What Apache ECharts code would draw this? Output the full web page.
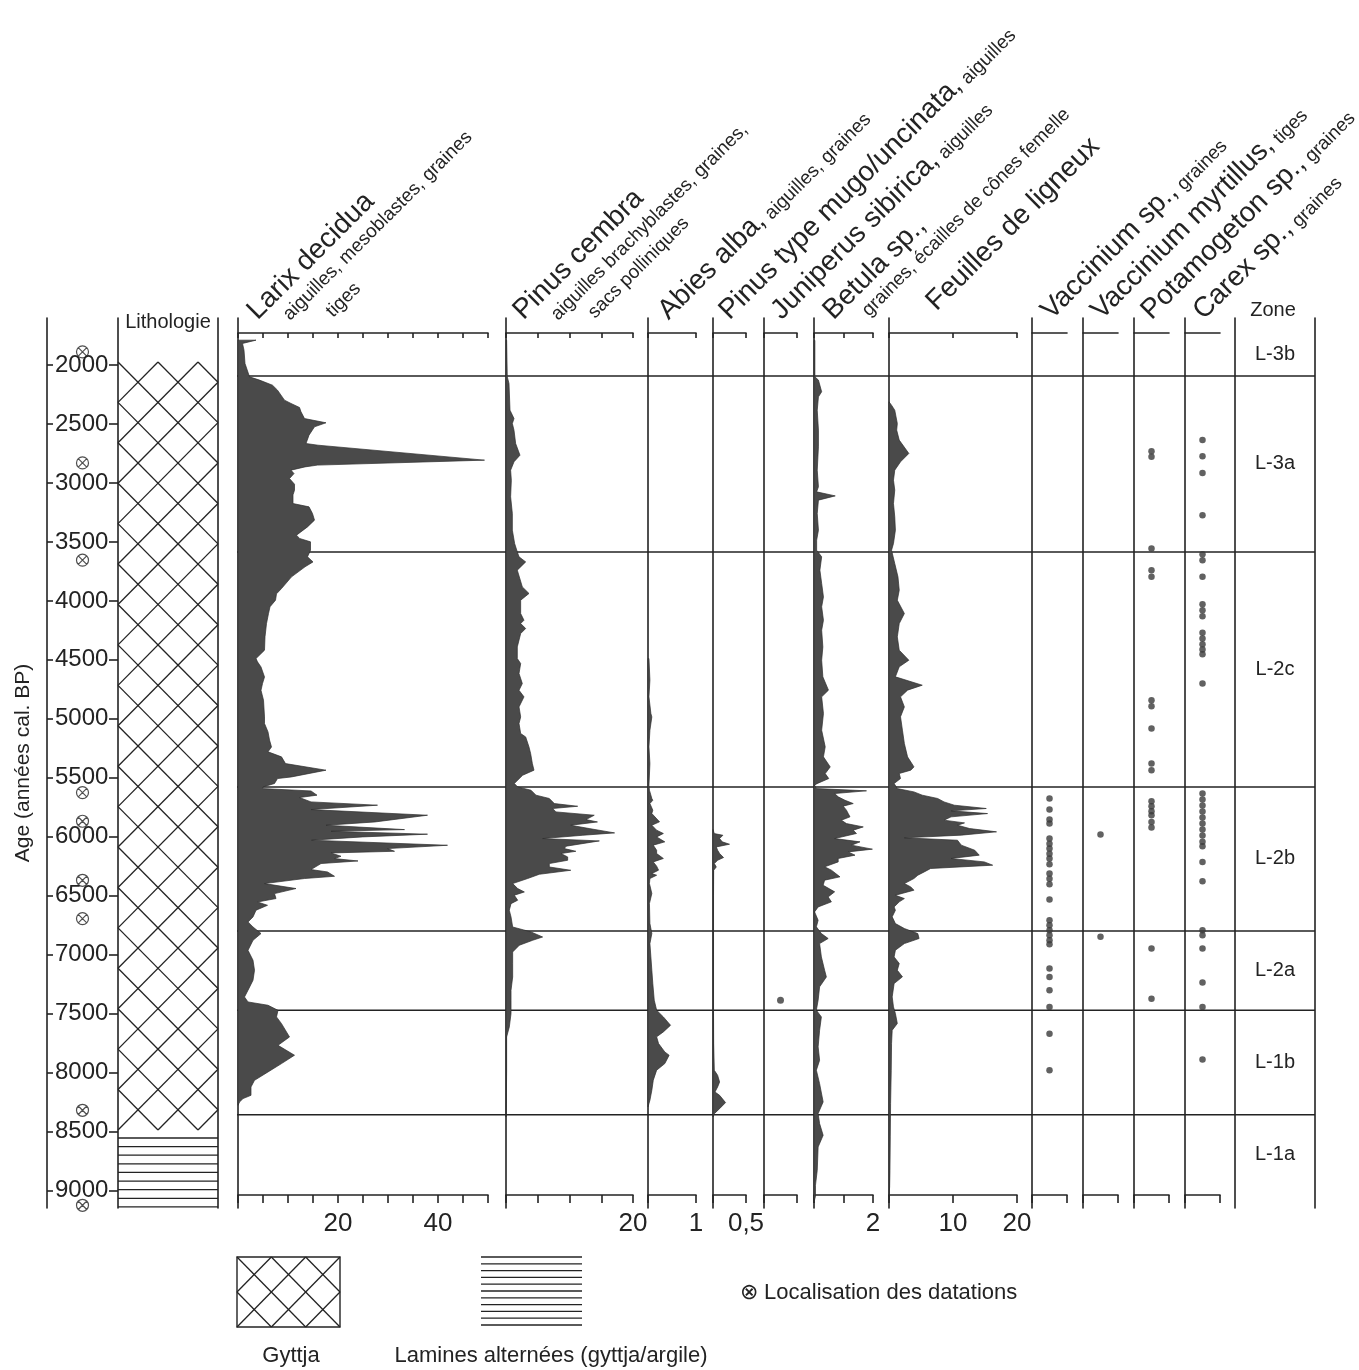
<!DOCTYPE html>
<html>
<head>
<meta charset="utf-8">
<script src="https://cdn.jsdelivr.net/npm/echarts@6/dist/echarts.min.js"></script>
<style>
html, body { margin: 0; padding: 0; background: #ffffff; }
#chart { width: 1359px; height: 1370px; }
</style>
</head>
<body>
<div id="chart"></div>
<script>
// ---- Age scale (années cal. BP) ----
const AGE_TICKS = [2000, 2500, 3000, 3500, 4000, 4500, 5000, 5500, 6000, 6500, 7000, 7500, 8000, 8500, 9000];
const DATINGS = [1887, 2829, 3654, 5626, 5869, 6370, 6695, 8321, 9127];

// ---- Zones ----
const ZONE_BOUNDS = [1730, 2091, 3584, 5578, 6800, 7473, 8358, 9040];
const ZONE_NAMES = ['L-3b', 'L-3a', 'L-2c', 'L-2b', 'L-2a', 'L-1b', 'L-1a'];

// ---- Lithology units ----
const LITHO_TOP = [1973, 8556];
const LITHO_BASE = [8488, 9141];
const LITHO_KIND = ['gyttja', 'lamines'];

// ---- Macrofossil curves: [age, value] ----
const LARIX = [
  [1788, 3.6], [1816, 0.9], [1873, 1.2], [1986, 1.4], [2099, 2.3], [2127, 4.3], [2170, 6.9], [2212, 7.9],
  [2297, 9.3], [2325, 10.6], [2359, 12.3], [2396, 12.6], [2453, 13.3], [2489, 17.6], [2523, 15.3], [2594, 14.2],
  [2665, 13.6], [2679, 16], [2806, 49.3], [2848, 15.9], [2863, 13.4], [2891, 10.6], [2920, 11.2], [2962, 10.3],
  [3010, 11.3], [3061, 11.3], [3100, 11], [3174, 11], [3202, 14.2], [3259, 14.9], [3315, 15.3], [3372, 13.9],
  [3442, 11.7], [3470, 12.3], [3499, 14.5], [3570, 14.5], [3626, 13.9], [3669, 15.0], [3711, 13.4], [3796, 10.7],
  [3895, 8.7], [3940, 7.7], [3994, 7.5], [4050, 6.4], [4107, 6.1], [4192, 5.7], [4305, 5.4], [4418, 5.3],
  [4489, 3.6], [4517, 3.9], [4560, 4.6], [4645, 5.3], [4701, 4.9], [4758, 4.6], [4842, 5.1], [4984, 5.3],
  [5040, 5.3], [5111, 6], [5180, 6.3], [5239, 6.7], [5280, 6.0], [5323, 8.7], [5380, 9.5], [5436, 17.6],
  [5493, 10.7], [5507, 7.9], [5549, 7.3], [5578, 5.0], [5592, 4.9], [5612, 14.6], [5648, 15.8], [5668, 12.3],
  [5705, 14.6], [5733, 27.9], [5770, 14.6], [5818, 37.9], [5875, 27.4], [5903, 17.6], [5940, 33.3], [5954, 18.6],
  [5979, 37.9], [6002, 24.9], [6030, 14.7], [6073, 41.9], [6101, 29.9], [6124, 31.3], [6138, 18.6], [6166, 20.6],
  [6186, 19.3], [6206, 24.0], [6228, 16.6], [6279, 14.6], [6299, 17.9], [6336, 19.3], [6355, 13.3], [6398, 5.3],
  [6440, 11.6], [6483, 7.3], [6525, 7.6], [6554, 3.9], [6582, 5.9], [6624, 3.6], [6681, 3.0], [6723, 2.0],
  [6766, 3.0], [6822, 4.6], [6879, 3.0], [6964, 2.0], [7048, 3.0], [7133, 3.3], [7218, 3.0], [7303, 2.0],
  [7360, 1.3], [7402, 2.0], [7430, 6.0], [7473, 8.0], [7529, 7.7], [7586, 8.7], [7699, 10.3], [7770, 8.0],
  [7854, 11.3], [7925, 8.7], [7996, 6.0], [8067, 3.3], [8123, 2.6], [8194, 2.6], [8222, 1.0], [8251, 0.3], [8279, 0]
];
const PINUS_CEMBRA = [
  [1788, 0.1], [2099, 0.2], [2155, 0.47], [2382, 0.63], [2453, 1.26], [2495, 1.0], [2552, 1.26], [2665, 1.52],
  [2764, 2.2], [2820, 1.26], [2891, 0.73], [2976, 0.84], [3117, 0.73], [3259, 1.0], [3400, 1.0], [3513, 1.36],
  [3584, 1.78], [3626, 2.05], [3669, 3.1], [3739, 1.78], [3881, 2.57], [3937, 3.62], [3994, 2.31], [4107, 2.31],
  [4164, 2.83], [4192, 2.31], [4234, 3.1], [4277, 2.31], [4390, 1.78], [4489, 1.78], [4531, 2.31], [4616, 2.05],
  [4701, 2.57], [4758, 2.05], [4814, 2.83], [4899, 2.05], [4984, 2.31], [5040, 2.05], [5125, 2.31], [5154, 3.1],
  [5239, 3.62], [5295, 3.88], [5380, 4.15], [5436, 4.41], [5479, 2.62], [5549, 1.31], [5578, 1.84], [5606, 3.94],
  [5648, 4.72], [5676, 6.82], [5719, 7.61], [5742, 11.29], [5761, 7.35], [5790, 7.87], [5818, 13.9], [5855, 12.6],
  [5875, 14.4], [5903, 10.2], [5931, 13.1], [5968, 17.1], [5988, 12.1], [6016, 5.77], [6036, 14.7], [6081, 9.45],
  [6101, 9.19], [6124, 11.0], [6143, 8.66], [6172, 9.71], [6200, 9.71], [6228, 6.82], [6257, 6.82], [6285, 10.2],
  [6319, 5.25], [6355, 3.41], [6398, 1.05], [6440, 1.84], [6469, 2.89], [6497, 1.31], [6539, 1.84], [6568, 0.79],
  [6624, 0.52], [6681, 0.79], [6766, 1.05], [6808, 3.94], [6851, 5.77], [6879, 4.2], [6921, 2.1], [6978, 1.05],
  [7077, 1.05], [7190, 1.05], [7303, 0.79], [7388, 0.79], [7501, 0.79], [7614, 0.52], [7699, 0.1], [7982, 0.1],
  [8251, 0.05], [8378, 0]
];
const ABIES = [
  [4489, 0.02], [4672, 0.04], [4814, 0.02], [4955, 0.06], [4984, 0.08], [5097, 0.04], [5238, 0.02], [5380, 0.04],
  [5564, 0.02], [5606, 0.03], [5676, 0.08], [5691, 0.10], [5719, 0.04], [5775, 0.10], [5804, 0.08], [5874, 0.24],
  [5903, 0.08], [5945, 0.18], [5973, 0.32], [6002, 0.18], [6044, 0.35], [6072, 0.11], [6115, 0.18], [6143, 0.18],
  [6185, 0.32], [6214, 0.11], [6250, 0.18], [6284, 0.22], [6313, 0.08], [6327, 0.18], [6355, 0.04], [6398, 0.03],
  [6482, 0.08], [6567, 0.03], [6737, 0.04], [6822, 0.08], [6907, 0.04], [7020, 0.06], [7133, 0.08], [7246, 0.10],
  [7387, 0.13], [7472, 0.18], [7529, 0.32], [7600, 0.47], [7656, 0.32], [7698, 0.18], [7755, 0.22], [7826, 0.35],
  [7854, 0.44], [7925, 0.35], [7981, 0.18], [8066, 0.11], [8151, 0.08], [8236, 0.04], [8292, 0]
];
const PINUS_MUGO = [
  [5940, 0], [5974, 0.02], [5988, 0.15], [6016, 0.1], [6044, 0.14], [6064, 0.25], [6087, 0.05], [6115, 0.07],
  [6143, 0.1], [6177, 0.16], [6200, 0.07], [6228, 0.02], [6257, 0.05], [6285, 0.01], [6500, 0.008], [7000, 0.008],
  [7500, 0.008], [7755, 0.01], [7982, 0.02], [8024, 0.07], [8081, 0.1], [8123, 0.07], [8166, 0.03], [8194, 0.1],
  [8256, 0.19], [8307, 0.1], [8350, 0.02], [8378, 0]
];
const BETULA = [
  [1790, 0.03], [2099, 0.03], [2127, 0.15], [2226, 0.26], [2269, 0.15], [2382, 0.11], [2551, 0.15], [2693, 0.15],
  [2891, 0.11], [3032, 0.15], [3075, 0.09], [3109, 0.72], [3145, 0.15], [3259, 0.11], [3400, 0.15], [3485, 0.09],
  [3570, 0.09], [3626, 0.26], [3739, 0.2], [3852, 0.26], [3966, 0.32], [4050, 0.26], [4164, 0.32], [4248, 0.26],
  [4390, 0.3], [4503, 0.26], [4644, 0.3], [4757, 0.49], [4814, 0.26], [4955, 0.32], [5097, 0.26], [5238, 0.38],
  [5323, 0.32], [5408, 0.55], [5465, 0.38], [5507, 0.5], [5550, 0.1], [5563, 0.02], [5592, 0.08], [5611, 1.78],
  [5634, 0.70], [5662, 0.82], [5691, 1.05], [5719, 1.33], [5741, 0.99], [5775, 1.10], [5804, 1.16], [5832, 1.22],
  [5860, 0.93], [5889, 1.10], [5917, 1.67], [5945, 1.33], [5973, 1.44], [6016, 0.70], [6044, 1.56], [6072, 1.27],
  [6106, 1.98], [6129, 1.16], [6157, 1.39], [6185, 0.82], [6214, 0.82], [6256, 0.36], [6284, 0.59], [6341, 0.88],
  [6369, 0.36], [6412, 0.31], [6468, 0.70], [6511, 0.48], [6553, 0.59], [6596, 0.14], [6638, 0.02], [6709, 0.14],
  [6765, 0.08], [6822, 0.25], [6864, 0.48], [6907, 0.19], [7020, 0.25], [7133, 0.36], [7190, 0.42], [7274, 0.19],
  [7387, 0.14], [7472, 0.08], [7529, 0.25], [7642, 0.19], [7783, 0.14], [7897, 0.19], [7981, 0.08], [8095, 0.19],
  [8250, 0.31], [8349, 0.14], [8434, 0.19], [8533, 0.31], [8632, 0.14], [8830, 0.11], [8957, 0.05], [9050, 0.05], [9100, 0]
];
const FEUILLES = [
  [2311, 0], [2340, 0.4], [2382, 0.9], [2495, 1.3], [2551, 1.2], [2636, 1.6], [2749, 3.1], [2820, 1.8],
  [2891, 0.9], [2976, 0.7], [3060, 0.9], [3174, 0.7], [3287, 0.9], [3400, 1.0], [3513, 0.7], [3570, 0.4],
  [3683, 0.9], [3796, 1.4], [3909, 1.6], [3994, 1.3], [4107, 2.4], [4192, 1.6], [4305, 1.3], [4418, 1.6],
  [4503, 3.1], [4559, 1.6], [4644, 1.0], [4715, 5.2], [4757, 2.9], [4814, 1.8], [4899, 2.4], [4983, 1.8],
  [5097, 2.1], [5210, 2.4], [5323, 2.9], [5408, 3.9], [5436, 3.4], [5464, 1.6], [5507, 1.8], [5549, 0.8],
  [5592, 1.3], [5620, 3.9], [5648, 5.2], [5676, 7.6], [5705, 8.6], [5733, 10.2], [5761, 15.2], [5781, 9.7],
  [5804, 15.4], [5832, 9.7], [5860, 8.6], [5883, 11.8], [5903, 10.7], [5931, 12.6], [5959, 16.8], [5987, 11.3],
  [6010, 2.4], [6030, 10.7], [6072, 11.3], [6115, 13.4], [6157, 14.1], [6185, 9.7], [6214, 14.9], [6242, 16.2],
  [6270, 6.5], [6299, 5.5], [6327, 4.5], [6355, 3.9], [6398, 2.4], [6426, 3.4], [6454, 3.9], [6497, 1.0],
  [6525, 2.4], [6553, 1.6], [6596, 0.8], [6624, 1.0], [6680, 0.5], [6737, 1.0], [6779, 2.4], [6822, 4.5],
  [6864, 4.7], [6907, 2.4], [6963, 1.0], [7020, 0.8], [7076, 1.6], [7133, 1.3], [7189, 2.1], [7246, 0.8],
  [7359, 0.5], [7444, 0.7], [7500, 1.0], [7585, 1.3], [7642, 0.5], [7755, 0.4], [7981, 0.35], [8264, 0.25],
  [8547, 0.2], [8830, 0.15], [8971, 0.1], [9050, 0]
];

// ---- Presence records (ages of samples with finds) ----
const JUNIPERUS = [7388];
const VACCINIUM_SP = [5677, 5770, 5855, 5889, 6016, 6059, 6101, 6144, 6186, 6234, 6313, 6356, 6404, 6534,
  6709, 6752, 6794, 6836, 6879, 6913, 7119, 7190, 7303, 7444, 7671, 7982];
const VACCINIUM_MYRTILLUS = [5982, 6850];
const POTAMOGETON = [2730, 2778, 3556, 3739, 3796, 4842, 4893, 5083, 5380, 5437, 5700, 5742, 5784, 5818,
  5875, 5923, 6949, 7374];
const CAREX = [2636, 2772, 2914, 3273, 3604, 3655, 3796, 4028, 4079, 4130, 4271, 4319, 4367, 4412, 4452, 4701,
  5634, 5685, 5736, 5787, 5838, 5889, 5940, 5991, 6042, 6081, 6214, 6378, 6794, 6836, 6949, 7238, 7444, 7891];

// ---- Layout / style ----
const GRID_TOP = 318, GRID_H = 890;
const AGE_MIN = 1600, AGE_MAX = 9150;
const TOP_AXIS_Y = 333, BOTTOM_AXIS_Y = 1195;
const INK = '#232323';
const FILL = '#4a4a4a';
const FONT = '"Liberation Sans", Arial, Helvetica, sans-serif';
const LINE = { color: INK, width: 1.6 };

const grids = [], xAxes = [], yAxes = [], series = [];

function addGrid(left, width) {
  grids.push({ left: left, width: width, top: GRID_TOP, height: GRID_H, containLabel: false });
  return grids.length - 1;
}
function addAgeAxis(gi, extra) {
  yAxes.push(Object.assign({
    gridIndex: gi, type: 'value', min: AGE_MIN, max: AGE_MAX, inverse: true,
    axisLine: { show: true, onZero: false, lineStyle: LINE },
    axisTick: { show: false }, axisLabel: { show: false }, splitLine: { show: false }
  }, extra || {}));
  return yAxes.length - 1;
}
function addHiddenX(gi) {
  xAxes.push({ gridIndex: gi, type: 'value', min: 0, max: 1, show: false });
  return xAxes.length - 1;
}
function fmtNum(v) { return String(v).replace('.', ','); }

// Filled silhouette of one curve, drawn through the panel's axes
function areaSeries(xi, yi, pts) {
  return {
    type: 'custom', xAxisIndex: xi, yAxisIndex: yi, silent: true, z: 3,
    data: pts.map(p => [p[1], p[0]]),
    renderItem: function (params, api) {
      if (params.dataIndex !== 0) return null;
      const poly = [api.coord([0, pts[0][0]])];
      pts.forEach(p => poly.push(api.coord([p[1], p[0]])));
      poly.push(api.coord([0, pts[pts.length - 1][0]]));
      return { type: 'polygon', shape: { points: poly }, style: { fill: FILL, stroke: '#2e2e2e', lineWidth: 0.7 } };
    }
  };
}
function dotSeries(xi, yi, ages, xv, size) {
  return {
    type: 'scatter', xAxisIndex: xi, yAxisIndex: yi, silent: true, z: 4,
    data: ages.map(a => [xv, a]), symbol: 'circle', symbolSize: size,
    itemStyle: { color: '#3a3a3a' }
  };
}

const PANELS = [
  { left: 238, width: 250, max: 50, interval: 5, labels: [20, 40], area: LARIX },
  { left: 506, width: 127, max: 20, interval: 5, labels: [20], area: PINUS_CEMBRA },
  { left: 648, width: 48, max: 1, interval: 1, labels: [1], area: ABIES },
  { left: 713, width: 33, max: 0.5, interval: 0.5, labels: [0.5], area: PINUS_MUGO },
  { left: 764, width: 33, max: 0.5, interval: 0.5, labels: [], dots: JUNIPERUS, dotSize: 7 },
  { left: 814, width: 59, max: 2, interval: 1, labels: [2], area: BETULA },
  { left: 889, width: 128, max: 20, interval: 10, labels: [10, 20], area: FEUILLES },
  { left: 1032, width: 35, max: 1, interval: 1, labels: [], dots: VACCINIUM_SP, dotSize: 6.5, bare: true },
  { left: 1083, width: 35, max: 1, interval: 1, labels: [], dots: VACCINIUM_MYRTILLUS, dotSize: 6.5, bare: true },
  { left: 1134, width: 35, max: 1, interval: 1, labels: [], dots: POTAMOGETON, dotSize: 6.5, bare: true },
  { left: 1185, width: 35, max: 1, interval: 1, labels: [], dots: CAREX, dotSize: 6.5, bare: true }
];

// ---- Zone boundary lines (behind the curves) ----
{
  const gi = addGrid(237, 1078);
  const xi = addHiddenX(gi);
  const yi = addAgeAxis(gi, { show: false });
  series.push({
    type: 'custom', xAxisIndex: xi, yAxisIndex: yi, silent: true, z: 1,
    data: ZONE_BOUNDS.slice(1, -1).map(a => [0, a]),
    renderItem: function (params, api) {
      const a = api.value(1);
      const p0 = api.coord([0, a]), p1 = api.coord([1, a]);
      return { type: 'line', shape: { x1: p0[0], y1: p0[1], x2: p1[0], y2: p1[1] }, style: { stroke: INK, lineWidth: 1.5 } };
    }
  });
}

// ---- Age axis with dating positions ----
{
  const gi = addGrid(47, 71);
  const xi = addHiddenX(gi);
  const yi = addAgeAxis(gi, {
    axisTick: { show: true, inside: true, length: 6, lineStyle: LINE, customValues: AGE_TICKS },
    axisLabel: { show: true, inside: true, margin: 8, fontSize: 24, color: INK, fontFamily: FONT,
      customValues: AGE_TICKS, formatter: v => String(v) },
    name: 'Age (années cal. BP)', nameLocation: 'middle', nameRotate: 90, nameGap: 13,
    nameTextStyle: { fontSize: 21, color: INK, fontFamily: FONT }
  });
  series.push({
    type: 'scatter', xAxisIndex: xi, yAxisIndex: yi, silent: true, z: 5,
    data: DATINGS.map(a => [0.5, a]),
    symbol: 'path://M0,-10A10,10 0 1,1 0,10A10,10 0 1,1 0,-10ZM-7.07,-7.07L7.07,7.07M7.07,-7.07L-7.07,7.07',
    symbolSize: 12,
    itemStyle: { color: 'rgba(0,0,0,0)', borderColor: INK, borderWidth: 1.2 }
  });
}

// ---- Lithology column ----
function latticeSegments(x0, y0, x1, y1) {
  const h = (x1 - x0) / 5;
  const rows = 2 * Math.max(1, Math.round((y1 - y0) / (2 * h)));
  const hy = (y1 - y0) / rows;
  const segs = [];
  const span = rows * h + 4 * h;
  for (let k = -Math.ceil(span / (2 * h)); k <= Math.ceil((x1 - x0 + span) / (2 * h)); k++) {
    const xs = x0 + 2 * h * k;
    [1, -1].forEach(dir => {
      let t0 = 0, t1 = rows;
      const ta = (x0 - xs) / (dir * h), tb = (x1 - xs) / (dir * h);
      t0 = Math.max(t0, Math.min(ta, tb));
      t1 = Math.min(t1, Math.max(ta, tb));
      if (t1 > t0 + 1e-6) segs.push([xs + dir * t0 * h, y0 + t0 * hy, xs + dir * t1 * h, y0 + t1 * hy]);
    });
  }
  return segs;
}
function hatchSegments(x0, y0, x1, y1, step) {
  const n = Math.max(1, Math.round((y1 - y0) / step));
  const segs = [];
  for (let i = 0; i <= n; i++) {
    const y = y0 + (y1 - y0) * i / n;
    segs.push([x0, y, x1, y]);
  }
  return segs;
}
{
  const gi = addGrid(118, 100);
  const xi = addHiddenX(gi);
  const yi = addAgeAxis(gi, {
    axisTick: { show: true, inside: false, length: 9, lineStyle: LINE, customValues: AGE_TICKS }
  });
  addAgeAxis(gi, { position: 'right' });
  series.push({
    type: 'custom', xAxisIndex: xi, yAxisIndex: yi, silent: true, z: 2,
    data: LITHO_TOP.map((t, i) => [0, t, LITHO_BASE[i], i]),
    renderItem: function (params, api) {
      const kind = LITHO_KIND[api.value(3)];
      const p0 = api.coord([0, api.value(1)]);
      const p1 = api.coord([1, api.value(2)]);
      const segs = kind === 'gyttja'
        ? latticeSegments(p0[0], p0[1], p1[0], p1[1])
        : hatchSegments(p0[0], p0[1], p1[0], p1[1], 8.6);
      return {
        type: 'group',
        children: segs.map(s => ({
          type: 'line', shape: { x1: s[0], y1: s[1], x2: s[2], y2: s[3] },
          style: { stroke: INK, lineWidth: 1.3 }
        }))
      };
    }
  });
}

// ---- Taxon panels ----
PANELS.forEach(p => {
  const gi = addGrid(p.left, p.width);
  xAxes.push({
    gridIndex: gi, type: 'value', position: 'top', offset: GRID_TOP - TOP_AXIS_Y,
    min: 0, max: p.max, interval: p.interval,
    axisLine: { show: true, onZero: false, lineStyle: LINE },
    axisTick: { show: !p.bare, inside: true, length: 5, lineStyle: LINE },
    axisLabel: { show: false }, splitLine: { show: false }
  });
  const xi = xAxes.length - 1;
  xAxes.push({
    gridIndex: gi, type: 'value', position: 'bottom', offset: BOTTOM_AXIS_Y - (GRID_TOP + GRID_H),
    min: 0, max: p.max, interval: p.interval,
    axisLine: { show: true, onZero: false, lineStyle: LINE },
    axisTick: { show: true, inside: false, length: 8, lineStyle: LINE },
    axisLabel: {
      show: true, margin: 16, fontSize: 26, color: INK, fontFamily: FONT,
      showMinLabel: true, showMaxLabel: true, hideOverlap: false,
      formatter: v => (p.labels.some(l => Math.abs(l - v) < 1e-9) ? fmtNum(v) : '')
    },
    splitLine: { show: false }
  });
  const yi = addAgeAxis(gi);
  if (p.area) series.push(areaSeries(xi, yi, p.area));
  if (p.dots) series.push(dotSeries(xi, yi, p.dots, p.max / 2, p.dotSize));
});

// ---- Zone column ----
{
  const gi = addGrid(1235, 80);
  const xi = addHiddenX(gi);
  const yi = addAgeAxis(gi);
  addAgeAxis(gi, { position: 'right' });
  series.push({
    type: 'custom', xAxisIndex: xi, yAxisIndex: yi, silent: true, z: 4,
    data: ZONE_NAMES.map((n, i) => [0.5, (ZONE_BOUNDS[i] + ZONE_BOUNDS[i + 1]) / 2, i]),
    renderItem: function (params, api) {
      const p = api.coord([api.value(0), api.value(1)]);
      return {
        type: 'text', x: p[0], y: p[1],
        style: { text: ZONE_NAMES[api.value(2)], font: '20px ' + FONT, fill: INK, align: 'center', verticalAlign: 'middle' }
      };
    }
  });
}

// ---- Column headings ----
const HEADINGS = [
  { x: 262, y: 325, text: '{b|Larix decidua}' },
  { x: 293, y: 324, text: '{s|aiguilles, mesoblastes, graines}' },
  { x: 336, y: 321, text: '{s|tiges}' },
  { x: 528, y: 325, text: '{b|Pinus cembra}' },
  { x: 561, y: 324, text: '{s|aiguilles brachyblastes, graines,}' },
  { x: 598, y: 322, text: '{s|sacs polliniques}' },
  { x: 673, y: 325, text: '{b|Abies alba,}{s| aiguilles, graines}' },
  { x: 734, y: 325, text: '{b|Pinus type mugo/uncinata,}{s| aiguilles}' },
  { x: 786, y: 325, text: '{b|Juniperus sibirica,}{s| aiguilles}' },
  { x: 838, y: 325, text: '{b|Betula sp.,}' },
  { x: 872, y: 320, text: '{s|graines, écailles de cônes femelle}' },
  { x: 941, y: 316, text: '{b|Feuilles de ligneux}' },
  { x: 1056, y: 325, text: '{b|Vaccinium sp.,}{s| graines}' },
  { x: 1106, y: 325, text: '{b|Vaccinium myrtillus,}{s| tiges}' },
  { x: 1156, y: 325, text: '{b|Potamogeton sp.,}{s| graines}' },
  { x: 1208, y: 325, text: '{b|Carex sp.,}{s| graines}' }
];
const RICH = {
  b: { fontSize: 28, fontFamily: FONT, color: INK, verticalAlign: 'bottom' },
  s: { fontSize: 19, fontFamily: FONT, color: INK, verticalAlign: 'bottom' }
};

const graphic = [];
HEADINGS.forEach(h => {
  graphic.push({
    type: 'text', x: h.x, y: h.y, rotation: Math.PI / 4, silent: true,
    style: { text: h.text, rich: RICH, align: 'left', verticalAlign: 'bottom', fill: INK }
  });
});
graphic.push({ type: 'text', x: 168, y: 322, silent: true,
  style: { text: 'Lithologie', font: '20px ' + FONT, fill: INK, align: 'center', verticalAlign: 'middle' } });
graphic.push({ type: 'text', x: 1273, y: 310, silent: true,
  style: { text: 'Zone', font: '20px ' + FONT, fill: INK, align: 'center', verticalAlign: 'middle' } });

// ---- Legend ----
{
  const children = [{ type: 'rect', shape: { x: 237, y: 1257, width: 103, height: 70 }, style: { fill: '#fff', stroke: INK, lineWidth: 1.4 } }];
  const h = 103 / 6, rows = 4, hy = 70 / rows;
  for (let k = -4; k <= 8; k++) {
    const xs = 237 + 2 * h * k;
    [1, -1].forEach(dir => {
      let t0 = 0, t1 = rows;
      const ta = (237 - xs) / (dir * h), tb = (340 - xs) / (dir * h);
      t0 = Math.max(t0, Math.min(ta, tb));
      t1 = Math.min(t1, Math.max(ta, tb));
      if (t1 > t0 + 1e-6) children.push({ type: 'line',
        shape: { x1: xs + dir * t0 * h, y1: 1257 + t0 * hy, x2: xs + dir * t1 * h, y2: 1257 + t1 * hy },
        style: { stroke: INK, lineWidth: 1.3 } });
    });
  }
  for (let i = 0; i <= 10; i++) {
    const y = 1257 + 68 * i / 10;
    children.push({ type: 'line', shape: { x1: 481, y1: y, x2: 582, y2: y }, style: { stroke: INK, lineWidth: 1.3 } });
  }
  children.push({ type: 'text', x: 291, y: 1356, style: { text: 'Gyttja', font: '22px ' + FONT, fill: INK, align: 'center', verticalAlign: 'middle' } });
  children.push({ type: 'text', x: 551, y: 1356, style: { text: 'Lamines alternées (gyttja/argile)', font: '22px ' + FONT, fill: INK, align: 'center', verticalAlign: 'middle' } });
  children.push({ type: 'text', x: 740, y: 1293, style: { text: '⊗ Localisation des datations', font: '22px ' + FONT, fill: INK, align: 'left', verticalAlign: 'middle' } });
  graphic.push({ type: 'group', silent: true, children: children });
}

const chart = echarts.init(document.getElementById('chart'), null, { renderer: 'canvas' });
chart.setOption({
  backgroundColor: '#ffffff',
  animation: false,
  textStyle: { fontFamily: FONT },
  grid: grids,
  xAxis: xAxes,
  yAxis: yAxes,
  series: series,
  graphic: graphic
});
</script>
</body>
</html>
